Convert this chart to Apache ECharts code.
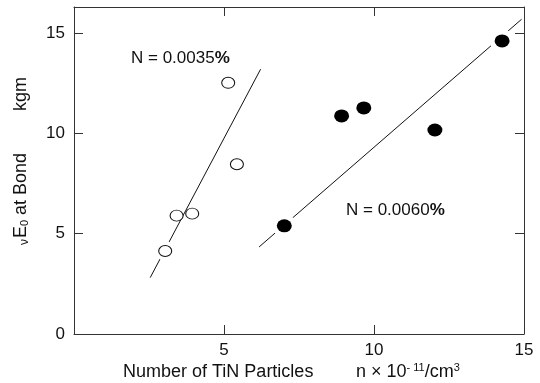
<!DOCTYPE html>
<html>
<head>
<meta charset="utf-8">
<script src="https://cdn.jsdelivr.net/npm/echarts@6/dist/echarts.min.js"></script>
<style>
  html, body { margin: 0; padding: 0; background: #fff; }
  #chart { width: 540px; height: 383px; }
</style>
</head>
<body>
<div id="chart"></div>
<script>
// N = 0.0035 % (open circles)
const openX = [3.04, 3.42, 3.94, 5.14, 5.43]
const openY = [4.14, 5.90, 6.00, 12.52, 8.46]
// N = 0.0060 % (filled circles)
const filledX = [7.01, 8.92, 9.66, 12.03, 14.27]
const filledY = [5.39, 10.87, 11.27, 10.17, 14.61]
// fitted lines (end points)
const fitOpenX = [2.54, 6.22]
const fitOpenY = [2.81, 13.2]
const fitFilledX = [6.17, 14.92]
const fitFilledY = [4.34, 15.69]
const xTicks = [5, 10, 15]
const yTicks = [0, 5, 10, 15]

const FONT = "Liberation Sans, Arial, sans-serif"
const INK = "#111"
const AXIS = "#333"

const pairs = (xs, ys) => xs.map((x, i) => [x, ys[i]])

const chart = echarts.init(document.getElementById("chart"))

const baseAxis = {
  axisLine: { show: true, onZero: false, lineStyle: { color: AXIS, width: 1 } },
  axisTick: { show: true, inside: true, length: 9, lineStyle: { color: AXIS } },
  splitLine: { show: false },
}

const option = {
  animation: false,
  backgroundColor: "#fff",
  grid: { left: 74, right: 16, top: 7, bottom: 49, containLabel: false },
  xAxis: [
    {
      ...baseAxis,
      type: "value", position: "bottom", min: 0, max: 15, interval: 5,
      axisLabel: {
        color: INK, fontFamily: FONT, fontSize: 17, margin: 8,
        formatter: (v) => (xTicks.includes(v) ? String(v) : ""),
      },
    },
    {
      ...baseAxis,
      type: "value", position: "top", min: 0, max: 15, interval: 5,
      axisLabel: { show: false },
    },
  ],
  yAxis: [
    {
      ...baseAxis,
      type: "value", position: "left", min: 0, max: 16.3, interval: 5,
      axisLabel: {
        color: INK, fontFamily: FONT, fontSize: 17, margin: 9,
        formatter: (v) => (yTicks.includes(v) ? String(v) : ""),
      },
    },
    {
      ...baseAxis,
      type: "value", position: "right", min: 0, max: 16.3, interval: 5,
      axisLabel: { show: false },
    },
  ],
  series: [
    {
      type: "line", z: 1, symbol: "none",
      data: pairs(fitOpenX, fitOpenY),
      lineStyle: { color: INK, width: 1 },
    },
    {
      type: "line", z: 1, symbol: "none",
      data: pairs(fitFilledX, fitFilledY),
      lineStyle: { color: INK, width: 1 },
    },
    // white halos so the fit lines break around some markers
    {
      type: "scatter", z: 2, symbol: "circle", symbolSize: 24,
      data: pairs(filledX, filledY),
      itemStyle: { color: "#fff", opacity: 1 },
      silent: true,
    },
    {
      type: "scatter", z: 2, symbol: "circle", symbolSize: 20,
      data: pairs(openX, openY).slice(0, 1),
      itemStyle: { color: "#fff", opacity: 1 },
      silent: true,
    },
    {
      type: "scatter", z: 3, symbol: "circle", symbolSize: [13, 11],
      data: pairs(openX, openY),
      itemStyle: { color: "#fff", borderColor: INK, borderWidth: 1, opacity: 1 },
    },
    {
      type: "scatter", z: 3, symbol: "circle", symbolSize: [15, 13],
      data: pairs(filledX, filledY),
      itemStyle: { color: "#000", opacity: 1 },
    },
  ],
  graphic: [
    {
      type: "text", x: 131, y: 58, z: 10,
      style: {
        text: "N = 0.0035{b|%}", font: "17px " + FONT, fill: INK,
        verticalAlign: "middle",
        rich: { b: { fontWeight: "bold", fontSize: 17, fontFamily: FONT, fill: INK } },
      },
    },
    {
      type: "text", x: 346, y: 210, z: 10,
      style: {
        text: "N = 0.0060{b|%}", font: "17px " + FONT, fill: INK,
        verticalAlign: "middle",
        rich: { b: { fontWeight: "bold", fontSize: 17, fontFamily: FONT, fill: INK } },
      },
    },
    {
      type: "text", x: 123, y: 372, z: 10,
      style: {
        text: "Number of TiN Particles", font: "18px " + FONT, fill: INK,
        verticalAlign: "middle",
      },
    },
    {
      type: "text", x: 356, y: 372, z: 10,
      style: {
        text: "n × 10{sup|- 11}/cm{sup|3}", font: "18px " + FONT, fill: INK,
        verticalAlign: "middle",
        rich: { sup: { fontSize: 11, fontFamily: FONT, fill: INK, padding: [0, 0, 8, 0] } },
      },
    },
    {
      type: "text", x: 21, y: 199, z: 10, rotation: Math.PI / 2,
      style: {
        text: "{v|ν}E{s|0} at Bond", font: "18px " + FONT, fill: INK,
        align: "center", verticalAlign: "middle",
        rich: {
          v: { fontSize: 12, fontFamily: FONT, fill: INK, padding: [7, 1, 0, 0] },
          s: { fontSize: 11, fontFamily: FONT, fill: INK, padding: [8, 0, 0, 0] },
        },
      },
    },
    {
      type: "text", x: 21, y: 94, z: 10, rotation: Math.PI / 2,
      style: {
        text: "kgm", font: "18px " + FONT, fill: INK,
        align: "center", verticalAlign: "middle",
      },
    },
  ],
}

chart.setOption(option)
</script>
</body>
</html>
